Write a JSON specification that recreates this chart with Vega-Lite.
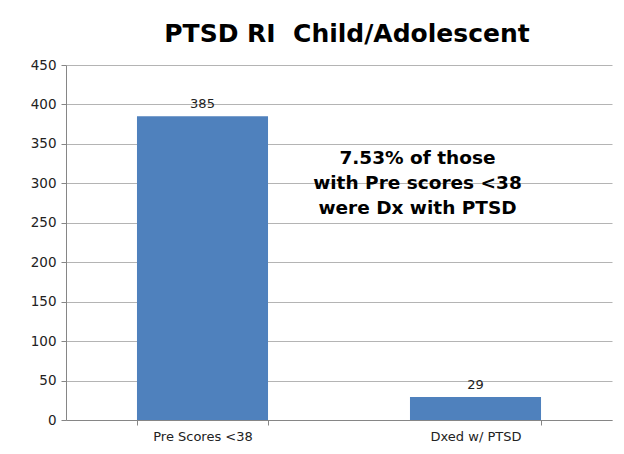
{
  "$schema": "https://vega.github.io/schema/vega-lite/v6.json",
  "width": 546,
  "height": 355,
  "autosize": {"type": "none"},
  "padding": {"left": 66, "top": 65, "right": 12, "bottom": 34},
  "background": "white",
  "title": {
    "text": "PTSD RI\u00a0\u00a0Child/Adolescent",
    "font": "DejaVu Sans",
    "fontSize": 25,
    "fontWeight": "bold",
    "color": "#000000",
    "anchor": "middle",
    "dx": 8,
    "offset": 11
  },
  "config": {
    "view": {"stroke": null},
    "font": "DejaVu Sans"
  },
  "layer": [
    {
      "data": {"values": [
        {"category": "Pre Scores <38", "count": 385},
        {"category": "Dxed w/ PTSD", "count": 29}
      ]},
      "mark": {"type": "bar", "color": "#4F81BD"},
      "encoding": {
        "x": {
          "field": "category", "type": "nominal", "sort": null,
          "scale": {"paddingInner": 0.52, "paddingOuter": 0.26},
          "axis": {
            "title": null, "labelAngle": 0, "tickBand": "extent",
            "labelFontSize": 13, "labelColor": "#222222", "labelFont": "DejaVu Sans",
            "domainColor": "#868686", "tickColor": "#868686", "tickSize": 5,
            "labelPadding": 5
          }
        },
        "y": {
          "field": "count", "type": "quantitative",
          "scale": {"domain": [0, 450]},
          "axis": {
            "title": null, "values": [0, 50, 100, 150, 200, 250, 300, 350, 400, 450],
            "labelOverlap": false,
            "labelFontSize": 13.5, "labelColor": "#222222", "labelFont": "DejaVu Sans",
            "domainColor": "#868686", "tickColor": "#868686", "tickSize": 5,
            "gridColor": "#b4b4b4", "labelPadding": 5
          }
        }
      }
    },
    {
      "data": {"values": [
        {"category": "Pre Scores <38", "count": 385},
        {"category": "Dxed w/ PTSD", "count": 29}
      ]},
      "mark": {"type": "text", "baseline": "bottom", "dy": -5, "fontSize": 13, "color": "#222222", "font": "DejaVu Sans"},
      "encoding": {
        "x": {"field": "category", "type": "nominal", "sort": null},
        "y": {
          "field": "count", "type": "quantitative",
          "axis": {
            "title": null, "values": [0, 50, 100, 150, 200, 250, 300, 350, 400, 450],
            "labelOverlap": false,
            "labelFontSize": 13.5, "labelColor": "#222222", "labelFont": "DejaVu Sans",
            "domainColor": "#868686", "tickColor": "#868686", "tickSize": 5,
            "gridColor": "#b4b4b4", "labelPadding": 5
          }
        },
        "text": {"field": "count", "type": "quantitative"}
      }
    },
    {
      "data": {"values": [
        {"category": "Dxed w/ PTSD", "count": 332, "note": ["7.53% of those", "with Pre scores <38", "\u00a0were Dx with PTSD"]}
      ]},
      "mark": {"type": "text", "align": "center", "baseline": "middle", "dx": -58, "fontSize": 18.5, "fontWeight": "bold", "lineHeight": 25, "color": "#000000", "font": "DejaVu Sans"},
      "encoding": {
        "x": {"field": "category", "type": "nominal", "sort": null},
        "y": {
          "field": "count", "type": "quantitative",
          "axis": {
            "title": null, "values": [0, 50, 100, 150, 200, 250, 300, 350, 400, 450],
            "labelOverlap": false,
            "labelFontSize": 13.5, "labelColor": "#222222", "labelFont": "DejaVu Sans",
            "domainColor": "#868686", "tickColor": "#868686", "tickSize": 5,
            "gridColor": "#b4b4b4", "labelPadding": 5
          }
        },
        "text": {"field": "note"}
      }
    }
  ]
}
